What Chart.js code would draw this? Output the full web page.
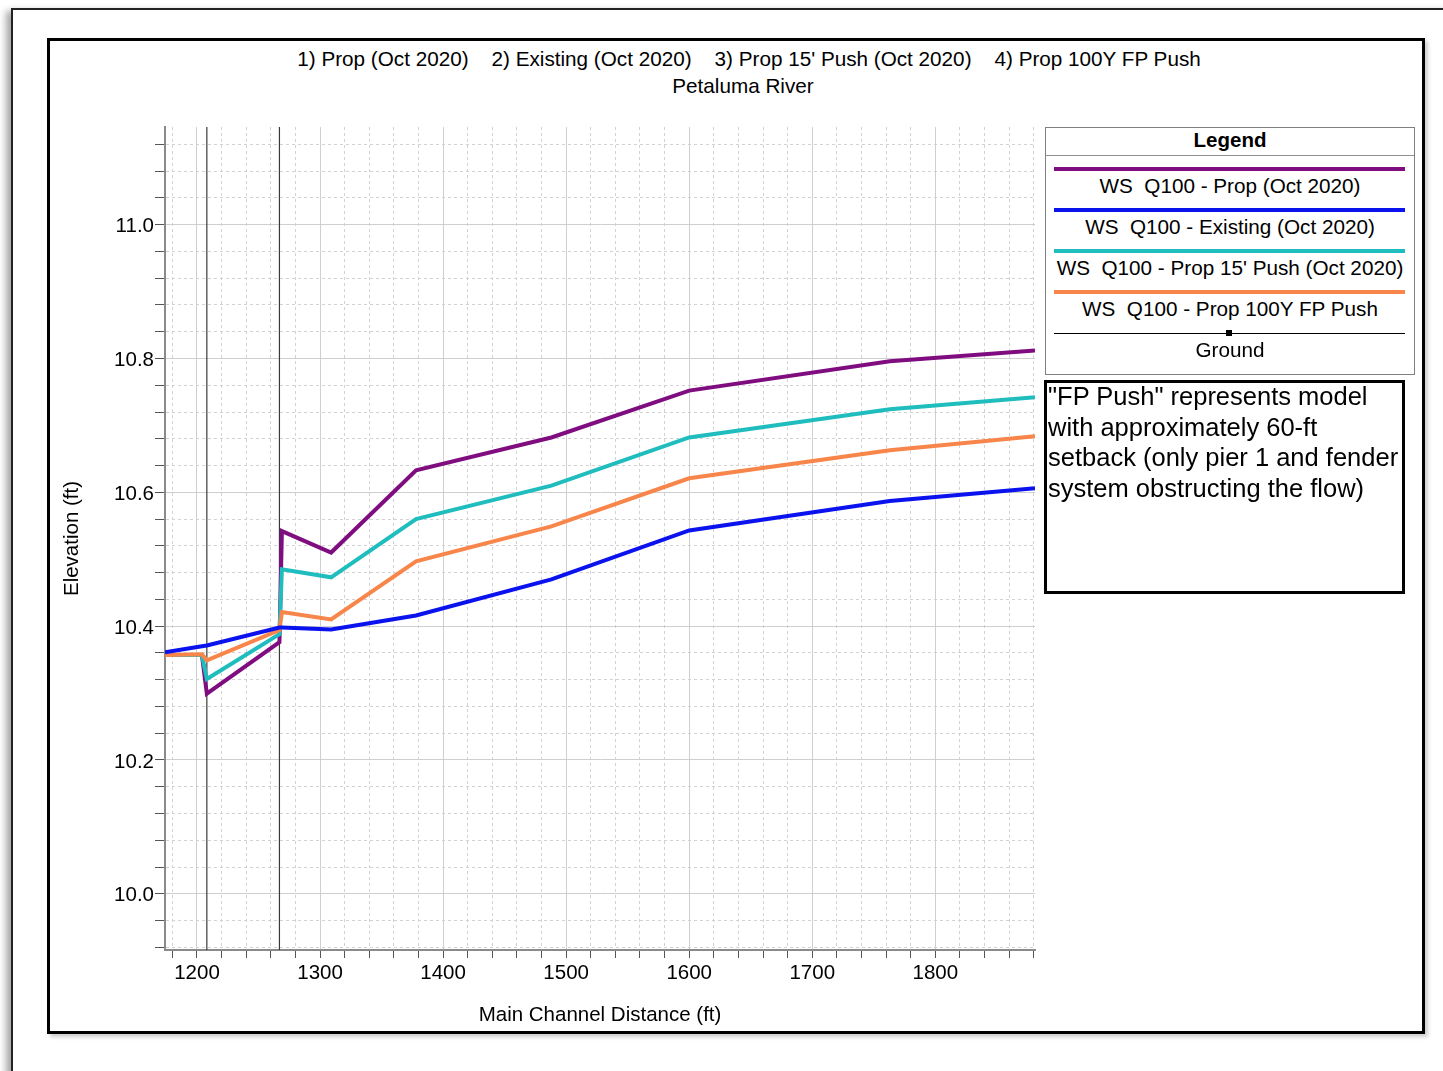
<!DOCTYPE html>
<html>
<head>
<meta charset="utf-8">
<script src="https://cdn.jsdelivr.net/npm/chart.js@4.4.1/dist/chart.umd.min.js"></script>
<style>
html,body{margin:0;padding:0;background:#fff;overflow:hidden;}
body{width:1443px;height:1071px;position:relative;font-family:"Liberation Sans",Arial,Helvetica,sans-serif;color:#000;}
#outer{position:absolute;left:11px;top:8px;width:1500px;height:1200px;border-left:2px solid #222;border-top:2px solid #222;box-shadow:-5px 3px 7px rgba(0,0,0,0.35);background:#fff;}
#inner{position:absolute;left:47px;top:38px;width:1378px;height:996px;border:3px solid #000;box-sizing:border-box;background:#fff;box-shadow:3px 3px 4px rgba(0,0,0,0.2);}
#wrap{position:absolute;left:0;top:0;width:1443px;height:1071px;}
.ttl{position:absolute;width:1000px;text-align:center;font-size:20.7px;line-height:24px;white-space:pre;}
#legend{position:absolute;left:1045px;top:127px;width:370px;height:248px;border:1px solid #808080;box-sizing:border-box;background:#fff;}
#legend .hdr{height:27px;line-height:24px;text-align:center;font-weight:bold;font-size:20.5px;border-bottom:1px solid #909090;}
#legend .item{position:relative;height:41px;}
#legend .sample{position:absolute;left:8px;width:351px;}
#legend .mark{position:absolute;width:6px;height:6px;background:#000;left:180px;}
#legend .txt{position:absolute;left:0;width:368px;top:18px;line-height:24px;text-align:center;font-size:20.7px;white-space:pre;}
#note{position:absolute;left:1044px;top:380px;width:361px;height:214px;border:3px solid #000;box-sizing:border-box;background:#fff;}
#note .t{position:absolute;left:1px;top:-2px;font-size:25.5px;line-height:30.5px;white-space:pre;}
</style>
</head>
<body>
<div id="outer"></div>
<div id="inner"></div>
<div class="ttl" id="title1" style="left:249px;top:47px;"></div>
<div class="ttl" id="title2" style="left:243px;top:74px;"></div>
<div id="wrap"><canvas id="c"></canvas></div>
<div id="legend"><div class="hdr">Legend</div><div id="legendItems"></div></div>
<div id="note"><div class="t" id="noteText"></div></div>
<script>
// ---- data ----
const titleLine1 = "1) Prop (Oct 2020)    2) Existing (Oct 2020)    3) Prop 15' Push (Oct 2020)    4) Prop 100Y FP Push";
const titleLine2 = "Petaluma River";
const xTitle = "Main Channel Distance (ft)";
const yTitle = "Elevation (ft)";
const noteLines = ['"FP Push" represents model', 'with approximately 60-ft', 'setback (only pier 1 and fender', 'system obstructing the flow)'];

const stations = [1174, 1204, 1208, 1267, 1269, 1309, 1378, 1488, 1600, 1763, 1881];
const propOct     = [10.357, 10.357, 10.299, 10.376, 10.542, 10.510, 10.633, 10.682, 10.752, 10.796, 10.812];
const existingOct = [10.361, 10.370, 10.371, 10.398, 10.398, 10.395, 10.416, 10.470, 10.543, 10.587, 10.606];
const push15Oct   = [10.357, 10.357, 10.321, 10.388, 10.485, 10.473, 10.560, 10.610, 10.682, 10.724, 10.742];
const fpPush100   = [10.357, 10.358, 10.349, 10.394, 10.421, 10.410, 10.497, 10.549, 10.621, 10.663, 10.684];
const groundVals  = [];   // ground lies below the plotted range
const bridgeStations = [1208, 1267];

const seriesLabels = ['WS  Q100 - Prop (Oct 2020)', 'WS  Q100 - Existing (Oct 2020)', "WS  Q100 - Prop 15' Push (Oct 2020)", 'WS  Q100 - Prop 100Y FP Push', 'Ground'];

const X_MIN = 1174, X_MAX = 1881, X_STEP = 20, X_MAJOR = 100;
const Y_MIN = 9.916, Y_MAX = 11.146, Y_STEP = 0.04, Y_MAJOR = 0.2;

// ---- build ----
document.getElementById('title1').textContent = titleLine1;
document.getElementById('title2').textContent = titleLine2;
document.getElementById('noteText').textContent = noteLines.join('\n');

const FAMILY = '"Liberation Sans", Arial, Helvetica, sans-serif';
const pts = vals => vals.map((y, i) => ({x: stations[i], y}));
const isMajor = (v, m) => Math.abs(v / m - Math.round(v / m)) < 1e-6;

const lineStyle = (color, order) => ({borderColor: color, backgroundColor: color, borderWidth: 4, pointRadius: 0, tension: 0, fill: false, order, inLegend: true, legendWidth: 4});
const datasets = [
  Object.assign({label: seriesLabels[0], data: pts(propOct)}, lineStyle('#800d80', 4)),
  Object.assign({label: seriesLabels[1], data: pts(existingOct)}, lineStyle('#0a12ee', 1)),
  Object.assign({label: seriesLabels[2], data: pts(push15Oct)}, lineStyle('#1fbdbd', 3)),
  Object.assign({label: seriesLabels[3], data: pts(fpPush100)}, lineStyle('#f8854a', 2)),
  {label: seriesLabels[4], data: pts(groundVals), borderColor: '#000', backgroundColor: '#000', borderWidth: 1, pointRadius: 0, order: 5, inLegend: true, legendWidth: 1, legendMarker: true},
];
bridgeStations.forEach(s => {
  datasets.push({label: 'bridge ' + s, data: [{x: s, y: Y_MIN}, {x: s, y: Y_MAX}], borderColor: '#3a3a3a', borderWidth: 1.2, pointRadius: 0, order: 20, inLegend: false});
});

const htmlLegend = {
  id: 'htmlLegend',
  afterUpdate(chart) {
    const box = document.getElementById('legendItems');
    box.innerHTML = '';
    chart.data.datasets.forEach(ds => {
      if (!ds.inLegend) return;
      const item = document.createElement('div'); item.className = 'item';
      const s = document.createElement('div'); s.className = 'sample';
      s.style.height = ds.legendWidth + 'px';
      s.style.top = (13 - ds.legendWidth / 2) + 'px';
      s.style.background = ds.borderColor;
      item.appendChild(s);
      if (ds.legendMarker) {
        const m = document.createElement('div'); m.className = 'mark'; m.style.top = '10px'; item.appendChild(m);
      }
      const t = document.createElement('div'); t.className = 'txt'; t.textContent = ds.label;
      item.appendChild(t);
      box.appendChild(item);
    });
  }
};

const gridColor = ctx => (ctx.tick && isMajor(ctx.tick.value, ctx.scale.axis === 'x' ? X_MAJOR : Y_MAJOR)) ? '#cfcfcf' : '#d2d2d2';
const gridDash = ctx => (ctx.tick && !isMajor(ctx.tick.value, ctx.scale.axis === 'x' ? X_MAJOR : Y_MAJOR)) ? [3, 3] : [];

new Chart(document.getElementById('c'), {
  type: 'line',
  data: {datasets},
  options: {
    responsive: true, maintainAspectRatio: false, animation: false,
    layout: {padding: {left: 50, top: 127, right: 408, bottom: 21}},
    plugins: {legend: {display: false}, tooltip: {enabled: false}},
    scales: {
      x: {
        type: 'linear', position: 'bottom', min: X_MIN, max: X_MAX,
        ticks: {stepSize: X_STEP, includeBounds: false, autoSkip: false, maxRotation: 0, padding: 3, color: '#000',
          font: {family: FAMILY, size: 20.5}, callback: v => isMajor(v, X_MAJOR) ? String(Math.round(v)) : ''},
        grid: {color: gridColor, lineWidth: 1, tickLength: 8, tickColor: '#555', tickWidth: 1},
        border: {display: true, color: '#8a8a8a', width: 2, dash: gridDash},
        title: {display: true, text: xTitle, color: '#000', font: {family: FAMILY, size: 20.5}, padding: {top: 0, bottom: 22}},
        afterFit: s => { s.height = 100; }
      },
      y: {
        type: 'linear', position: 'left', min: Y_MIN, max: Y_MAX,
        ticks: {stepSize: Y_STEP, includeBounds: false, autoSkip: false, padding: 1, labelOffset: 2, color: '#000',
          font: {family: FAMILY, size: 20.5}, callback: v => isMajor(v, Y_MAJOR) ? v.toFixed(1) : ''},
        grid: {color: gridColor, lineWidth: 1, tickLength: 10, tickColor: '#555', tickWidth: 1},
        border: {display: true, color: '#8a8a8a', width: 2, dash: gridDash},
        title: {display: true, text: yTitle, color: '#000', font: {family: FAMILY, size: 20.5}, padding: {top: 10, bottom: 0}},
        afterFit: s => { s.width = 115; }
      }
    }
  },
  plugins: [htmlLegend]
});
</script>
</body>
</html>
